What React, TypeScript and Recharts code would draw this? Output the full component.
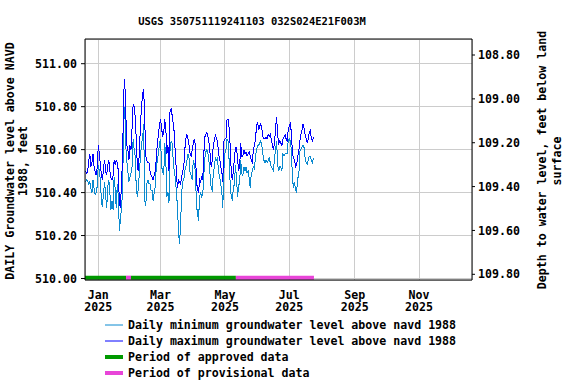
import React from "react";
import {
  ComposedChart,
  Line,
  XAxis,
  YAxis,
  CartesianGrid,
  ReferenceLine,
} from "recharts";

const FONT = "'DejaVu Sans Mono', monospace";

// days counted from Jan 1, 2025; first reading is Dec 20, 2024
const START_DAY = -12;

const dailyMin = [
  510.45, 510.46, 510.45, 510.44, 510.45, 510.42, 510.40, 510.46, 510.42, 510.39,
  510.40, 510.43, 510.53, 510.50, 510.46, 510.35, 510.34, 510.40, 510.45, 510.38,
  510.33, 510.43, 510.46, 510.40, 510.32, 510.36, 510.32, 510.47, 510.42, 510.33,
  510.44, 510.38, 510.22, 510.28, 510.33, 510.40, 510.72, 510.80, 510.62, 510.55,
  510.50, 510.45, 510.47, 510.49, 510.52, 510.65, 510.60, 510.57, 510.42, 510.38,
  510.42, 510.50, 510.57, 510.63, 510.65,
  510.72, 510.36, 510.34, 510.44, 510.46,
  510.44, 510.44, 510.41, 510.41, 510.36, 510.40, 510.43, 510.52, 510.55, 510.58,
  510.63, 510.65, 510.52, 510.50, 510.48, 510.63, 510.55, 510.38, 510.40, 510.35,
  510.60, 510.64, 510.63, 510.55, 510.50, 510.47, 510.40, 510.34, 510.22, 510.16,
  510.25, 510.40, 510.45, 510.46, 510.50, 510.52, 510.55, 510.58, 510.56, 510.49,
  510.48, 510.46, 510.55, 510.53, 510.50, 510.35, 510.30, 510.27, 510.38, 510.40,
  510.38, 510.39,
  510.48, 510.56, 510.59, 510.60, 510.58, 510.54, 510.48, 510.42,
  510.41, 510.49, 510.52, 510.56, 510.55, 510.56, 510.49, 510.48, 510.44, 510.41,
  510.33, 510.50, 510.58, 510.60, 510.65, 510.64, 510.55, 510.44, 510.38, 510.37,
  510.42, 510.44, 510.53, 510.47, 510.38, 510.43, 510.45, 510.55, 510.49, 510.48,
  510.52, 510.50, 510.52, 510.49, 510.50, 510.47, 510.42, 510.49, 510.50, 510.52,
  510.51, 510.57, 510.60, 510.62, 510.62, 510.63, 510.64,
  510.62, 510.58, 510.55, 510.54, 510.55, 510.54, 510.55, 510.56, 510.54, 510.52,
  510.51, 510.50, 510.56, 510.60, 510.64, 510.53, 510.50, 510.52, 510.52, 510.50,
  510.58, 510.57, 510.58, 510.58, 510.58, 510.64, 510.65, 510.64, 510.60, 510.47,
  510.42, 510.45, 510.41, 510.40, 510.47, 510.47, 510.59, 510.60, 510.61, 510.62,
  510.61, 510.56, 510.54, 510.53, 510.55, 510.57, 510.57, 510.55, 510.54, 510.56,
];

const dailyMax = [
  510.50, 510.49, 510.50, 510.55, 510.58, 510.52, 510.54, 510.58, 510.52, 510.50,
  510.48, 510.52, 510.62, 510.58, 510.53, 510.48, 510.46, 510.52, 510.55, 510.50,
  510.48, 510.53, 510.55, 510.50, 510.47, 510.46, 510.48, 510.55, 510.53, 510.55,
  510.54, 510.50, 510.35, 510.33, 510.45, 510.55, 510.85, 510.93, 510.78, 510.62,
  510.60, 510.55, 510.62, 510.60, 510.70, 510.81, 510.80, 510.75, 510.65, 510.52,
  510.50, 510.60, 510.72, 510.80, 510.86,
  510.88, 510.74, 510.57, 510.55, 510.54,
  510.54, 510.50, 510.48, 510.47, 510.46, 510.48, 510.50, 510.56, 510.63, 510.67,
  510.72, 510.74, 510.70, 510.66, 510.68, 510.74, 510.70, 510.58, 510.62, 510.50,
  510.78, 510.79, 510.76, 510.72, 510.68, 510.58, 510.50, 510.42, 510.46, 510.45,
  510.44, 510.47, 510.50, 510.52, 510.60, 510.65, 510.67, 510.65, 510.62, 510.58,
  510.57, 510.60, 510.63, 510.65, 510.62, 510.45, 510.42, 510.40, 510.46, 510.45,
  510.47, 510.46,
  510.58, 510.66, 510.67, 510.68, 510.66, 510.63, 510.58, 510.52,
  510.55, 510.62, 510.64, 510.67, 510.65, 510.64, 510.58, 510.56, 510.52, 510.50,
  510.45, 510.64, 510.65, 510.65, 510.74, 510.74, 510.70, 510.62, 510.50, 510.46,
  510.50, 510.56, 510.61, 510.61, 510.56, 510.50, 510.52, 510.63, 510.57, 510.57,
  510.60, 510.58, 510.59, 510.57, 510.58, 510.59, 510.57, 510.55, 510.54, 510.60,
  510.62, 510.65, 510.71, 510.73, 510.69, 510.71, 510.72,
  510.70, 510.66, 510.65, 510.65, 510.66, 510.65, 510.67, 510.66, 510.67, 510.65,
  510.62, 510.60, 510.63, 510.70, 510.75, 510.67, 510.63, 510.64, 510.63, 510.62,
  510.65, 510.66, 510.67, 510.65, 510.64, 510.69, 510.71, 510.72, 510.68, 510.58,
  510.56, 510.55, 510.52, 510.53, 510.57, 510.59, 510.64, 510.67, 510.69, 510.72,
  510.70, 510.67, 510.65, 510.63, 510.65, 510.68, 510.69, 510.65, 510.64, 510.66,
];

const monthTicks = [0, 59, 120, 181, 243, 304];
const monthLabels = ["Jan", "Mar", "May", "Jul", "Sep", "Nov"];
const elevTicks = [510.0, 510.2, 510.4, 510.6, 510.8, 511.0];
const depthTicks = [108.8, 109.0, 109.2, 109.4, 109.6, 109.8];

// [from, to] in days from Jan 1, 2025
const approvedPeriods = [
  [-12.6, 26.3],
  [31, 130.4],
];
const provisionalPeriods = [
  [26.3, 31],
  [130.4, 204.4],
];

const X_DOMAIN = [-12.6, 354.2];
const ELEV_DOMAIN = [509.993, 511.115];
const DEPTH_DOMAIN = [108.727, 109.826];
const BAR_Y = 510.004;

const MIN_COLOR = "#0a8ad0";
const MAX_COLOR = "#0000ff";
const APPROVED_COLOR = "#009900";
const PROVISIONAL_COLOR = "#e845d8";

const tickStyle = { fontFamily: FONT, fontSize: 11.6, fontWeight: "bold", fill: "#000" };

const rows = dailyMin.map((v, i) => ({
  day: START_DAY + i,
  min: v,
  max: dailyMax[i],
}));

const MonthTick = ({ x, y, payload }: any) => {
  const idx = monthTicks.indexOf(payload.value);
  return (
    <g>
      <text x={x} y={y + 14.5} textAnchor="middle" dominantBaseline="central" style={tickStyle}>
        {monthLabels[idx]}
      </text>
      <text x={x} y={y + 27} textAnchor="middle" dominantBaseline="central" style={tickStyle}>
        2025
      </text>
    </g>
  );
};

const legendItems = [
  { label: "Daily minimum groundwater level above navd 1988", color: MIN_COLOR, w: 1 },
  { label: "Daily maximum groundwater level above navd 1988", color: MAX_COLOR, w: 1 },
  { label: "Period of approved data", color: APPROVED_COLOR, w: 4 },
  { label: "Period of provisional data", color: PROVISIONAL_COLOR, w: 4 },
];

export default function App() {
  return (
    <div style={{ position: "absolute", left: 0, top: 0, width: 576, height: 384, background: "#fff" }}>
      <ComposedChart
        width={576}
        height={384}
        data={rows}
        margin={{ top: 39, right: 0, bottom: 0, left: 0 }}
      >
        <CartesianGrid stroke="#cccccc" shapeRendering="crispEdges" />
        <XAxis
          dataKey="day"
          type="number"
          domain={X_DOMAIN}
          allowDataOverflow
          ticks={monthTicks}
          tick={<MonthTick />}
          tickLine={false}
          tickSize={0}
          tickMargin={0}
          height={104}
          stroke="#000"
          interval={0}
        />
        <YAxis
          type="number"
          domain={ELEV_DOMAIN}
          allowDataOverflow
          ticks={elevTicks}
          tickFormatter={(v: number) => v.toFixed(2)}
          tick={tickStyle}
          tickSize={4}
          tickMargin={4}
          width={85}
          stroke="#000"
          interval={0}
        />
        <YAxis
          yAxisId="right"
          orientation="right"
          type="number"
          domain={DEPTH_DOMAIN}
          reversed
          allowDataOverflow
          ticks={depthTicks}
          tickFormatter={(v: number) => v.toFixed(2)}
          tick={{ ...tickStyle, textAnchor: "start" }}
          tickSize={3}
          tickMargin={3}
          width={104}
          stroke="#000"
          interval={0}
        />
        <ReferenceLine y={ELEV_DOMAIN[1]} stroke="#000" ifOverflow="visible" />
        {approvedPeriods.map(([a, b], i) => (
          <ReferenceLine
            key={`ap-${i}`}
            segment={[{ x: a, y: BAR_Y }, { x: b, y: BAR_Y }]}
            stroke={APPROVED_COLOR}
            strokeWidth={4}
            ifOverflow="visible"
          />
        ))}
        {provisionalPeriods.map(([a, b], i) => (
          <ReferenceLine
            key={`pp-${i}`}
            segment={[{ x: a, y: BAR_Y }, { x: b, y: BAR_Y }]}
            stroke={PROVISIONAL_COLOR}
            strokeWidth={4}
            ifOverflow="visible"
          />
        ))}
        <Line
          dataKey="min"
          type="linear"
          stroke={MIN_COLOR}
          strokeWidth={1}
          dot={false}
          activeDot={false}
          shapeRendering="crispEdges"
          isAnimationActive={false}
        />
        <Line
          dataKey="max"
          type="linear"
          stroke={MAX_COLOR}
          strokeWidth={1}
          dot={false}
          activeDot={false}
          shapeRendering="crispEdges"
          isAnimationActive={false}
        />
      </ComposedChart>
      <svg
        width={576}
        height={384}
        style={{ position: "absolute", left: 0, top: 0, pointerEvents: "none" }}
      >
        <text x={252} y={20.5} textAnchor="middle" dominantBaseline="central"
          style={{ ...tickStyle, fontSize: 10.5 }}>
          USGS 350751119241103 032S024E21F003M
        </text>
        <g transform="translate(10,161) rotate(-90)">
          <text x={0} y={0} textAnchor="middle" dominantBaseline="central" style={tickStyle}>
            DAILY Groundwater level above NAVD
          </text>
        </g>
        <g transform="translate(23,161) rotate(-90)">
          <text x={0} y={0} textAnchor="middle" dominantBaseline="central" style={tickStyle}>
            1988, feet
          </text>
        </g>
        <g transform="translate(542,160) rotate(-90)">
          <text x={0} y={0} textAnchor="middle" dominantBaseline="central" style={tickStyle}>
            Depth to water level, feet below land
          </text>
        </g>
        <g transform="translate(557,161) rotate(-90)">
          <text x={0} y={0} textAnchor="middle" dominantBaseline="central" style={tickStyle}>
            surface
          </text>
        </g>
        {legendItems.map((it, i) => {
          const y = 325 + i * 16;
          return (
            <g key={it.label}>
              <line x1={105} x2={123} y1={y} y2={y} stroke={it.color} strokeWidth={it.w} />
              <text x={128} y={y} dominantBaseline="central" style={tickStyle}>
                {it.label}
              </text>
            </g>
          );
        })}
      </svg>
    </div>
  );
}
